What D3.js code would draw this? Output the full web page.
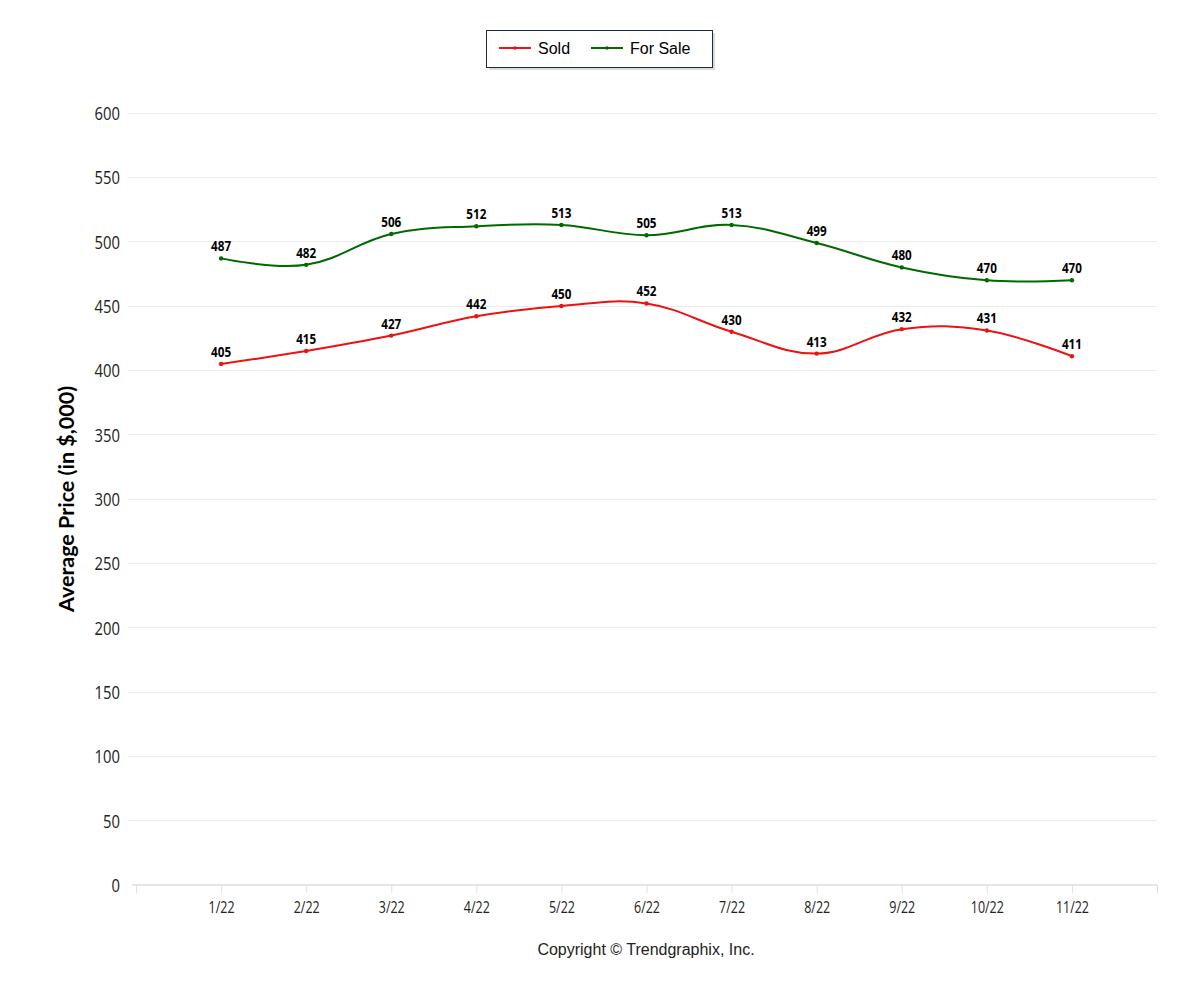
<!DOCTYPE html>
<html><head><meta charset="utf-8">
<script src="https://cdn.jsdelivr.net/npm/d3@7"></script>
<style>
body{margin:0;background:#fff;}
svg{display:block;}
</style></head>
<body>
<svg id="chart" width="1200" height="1000"></svg>
<script>
const categories = ["1/22","2/22","3/22","4/22","5/22","6/22","7/22","8/22","9/22","10/22","11/22"];
const soldValues = [405,415,427,442,450,452,430,413,432,431,411];
const forSaleValues = [487,482,506,512,513,505,513,499,480,470,470];
const yTicks = [0,50,100,150,200,250,300,350,400,450,500,550,600];
const seriesNames = ["Sold","For Sale"];
const seriesColors = ["#ee1111","#006a00"];

const svg = d3.select("#chart");
const narrow = "'Open Sans','DejaVu Sans',sans-serif";
const SX = 0.78;

const x = d3.scaleLinear().domain([0, categories.length + 1]).range([136, 1157]);
const y = d3.scaleLinear().domain([0, 600]).range([885, 113]);

// gridlines
svg.append("g").selectAll("line").data(yTicks.filter(d=>d>0)).join("line")
  .attr("x1",128).attr("x2",1157)
  .attr("y1",d=>y(d)).attr("y2",d=>y(d))
  .attr("stroke","#ebebeb").attr("stroke-width",1).attr("shape-rendering","crispEdges");

// y labels
svg.append("g").selectAll("text").data(yTicks).join("text")
  .attr("transform",d=>`translate(120,${y(d)}) scale(${SX},1)`)
  .attr("dy","0.36em")
  .attr("text-anchor","end")
  .style("font-family",narrow).style("font-size","19px").style("fill","#222")
  .text(d=>d);

// x axis
const xAxis = d3.axisBottom(x)
  .tickValues(d3.range(0, categories.length + 2))
  .tickSize(8)
  .tickFormat(d => (d>=1 && d<=categories.length) ? categories[d-1] : "");
const gx = svg.append("g").attr("transform",`translate(0,${y(0)})`).call(xAxis);
gx.select(".domain").attr("stroke","#e6e6e6").attr("stroke-width",2).attr("d","M132,0H1157");
gx.selectAll(".tick line").attr("stroke","#e0e0e0");
gx.selectAll(".tick text").attr("y",null).attr("dy",null)
  .attr("transform",`translate(0,28) scale(${SX},1)`)
  .style("font-family",narrow).style("font-size","16px").style("fill","#222");

// lines
const seriesData = [soldValues, forSaleValues];
const line = d3.line()
  .x((d,i)=>x(i+1)).y(d=>y(d))
  .curve(d3.curveCardinal.tension(-0.15));

seriesData.forEach((vals, si) => {
  const g = svg.append("g");
  g.append("path").datum(vals).attr("d", line)
    .attr("fill","none").attr("stroke",seriesColors[si]).attr("stroke-width",2);
  g.selectAll("circle").data(vals).join("circle")
    .attr("cx",(d,i)=>x(i+1)).attr("cy",d=>y(d)).attr("r",2.2)
    .attr("fill",seriesColors[si]);
  g.selectAll("text").data(vals).join("text")
    .attr("transform",(d,i)=>`translate(${x(i+1)},${y(d)-7}) scale(${SX},1)`)
    .attr("text-anchor","middle")
    .style("font-family",narrow).style("font-weight","bold").style("font-size","15px").style("fill","#000")
    .text(d=>d);
});

// axis title
svg.append("text")
  .attr("transform","translate(74,499) rotate(-90)")
  .attr("text-anchor","middle")
  .style("font-family","Lato,'Open Sans',sans-serif").style("font-weight","bold").style("font-size","21.5px").style("fill","#000")
  .text("Average Price (in $,000)");

// legend
const lg = svg.append("g");
lg.append("rect").attr("x",489).attr("y",33).attr("width",226).attr("height",37).attr("fill","#999").attr("opacity",0.35);
lg.append("rect").attr("x",486.5).attr("y",30.5).attr("width",226).attr("height",37)
  .attr("fill","#fff").attr("stroke","#1c2a48").attr("stroke-width",1);
const legendX = [499, 591];
seriesNames.forEach((name, i) => {
  lg.append("line").attr("x1",legendX[i]).attr("x2",legendX[i]+32).attr("y1",48).attr("y2",48)
    .attr("stroke",seriesColors[i]).attr("stroke-width",2);
  lg.append("circle").attr("cx",legendX[i]+16).attr("cy",48).attr("r",1.8).attr("fill",seriesColors[i]);
  lg.append("text").attr("x",legendX[i]+39).attr("y",48).attr("dy","0.36em")
    .style("font-family","'Liberation Sans',Arial,sans-serif").style("font-size","16px").style("fill","#000")
    .text(name);
});

// copyright
svg.append("text").attr("x",646).attr("y",955).attr("text-anchor","middle")
  .style("font-family","'Liberation Sans',Arial,sans-serif").style("font-size","16px").style("fill","#222")
  .text("Copyright © Trendgraphix, Inc.");
</script>
</body></html>
